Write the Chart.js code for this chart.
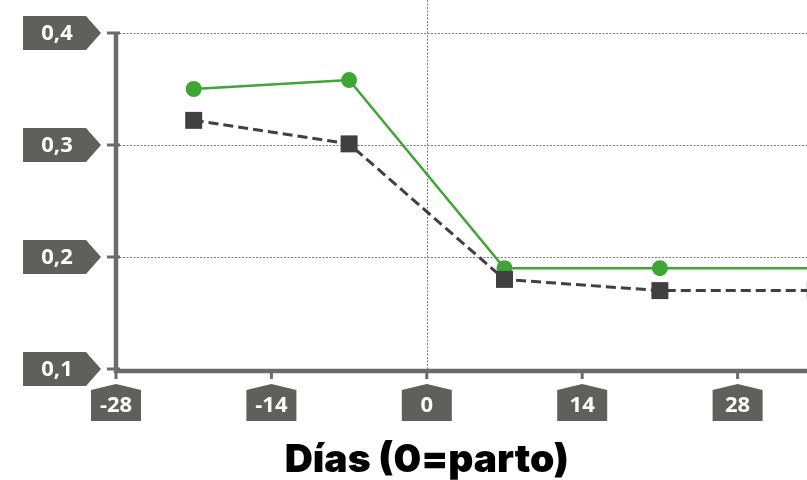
<!DOCTYPE html>
<html>
<head>
<meta charset="utf-8">
<script src="https://cdn.jsdelivr.net/npm/chart.js@4/dist/chart.umd.min.js"></script>
<style>
  html, body { margin: 0; padding: 0; background: #ffffff; overflow: hidden; }
  #wrap { width: 905px; height: 480px; }
</style>
</head>
<body>
<div id="wrap"><canvas id="chart" width="905" height="480"></canvas></div>
<script>
// Days relative to calving and the two measured series
const days = [-21, -7, 7, 21, 35];
const seriesA = [0.350, 0.358, 0.190, 0.190, 0.190];
const seriesB = [0.322, 0.301, 0.180, 0.170, 0.170];

// Axis ticks and their printed labels
const xTicks = [-28, -14, 0, 14, 28];
const xTickLabels = ['-28', '-14', '0', '14', '28'];
const yTicks = [0.1, 0.2, 0.3, 0.4];
const yTickLabels = ['0,1', '0,2', '0,3', '0,4'];
const xTitle = 'Días (0=parto)';

const GREEN = '#3fa535';
const DARK = '#404040';
const BOX = '#5f5f5d';
const AXIS = '#6b6b6b';
const GRID = '#7a7a7a';

const decorations = {
  id: 'decorations',
  beforeDatasetsDraw(chart) {
    const { ctx, chartArea, scales } = chart;
    const x = scales.x, y = scales.y;
    ctx.save();
    // dotted grid
    ctx.strokeStyle = GRID;
    ctx.lineWidth = 1;
    ctx.setLineDash([2, 1.5]);
    yTicks.slice(1).forEach(v => {
      const py = Math.round(y.getPixelForValue(v)) + 0.5;
      ctx.beginPath();
      ctx.moveTo(chartArea.left, py);
      ctx.lineTo(chart.width, py);
      ctx.stroke();
    });
    const px0 = Math.round(x.getPixelForValue(0)) + 0.5;
    ctx.beginPath();
    ctx.moveTo(px0, 0);
    ctx.lineTo(px0, chartArea.bottom);
    ctx.stroke();
    ctx.setLineDash([]);

    // axis lines
    ctx.strokeStyle = AXIS;
    ctx.lineWidth = 4.5;
    ctx.beginPath();
    ctx.moveTo(chartArea.left, chartArea.top - 1);
    ctx.lineTo(chartArea.left, chartArea.bottom + 2);
    ctx.lineTo(chart.width, chartArea.bottom + 2);
    ctx.stroke();

    // tick marks
    ctx.lineWidth = 3;
    yTicks.forEach(v => {
      const py = y.getPixelForValue(v);
      ctx.beginPath();
      ctx.moveTo(chartArea.left - 9, py);
      ctx.lineTo(chartArea.left + 4, py);
      ctx.stroke();
    });
    xTicks.forEach(v => {
      const px = x.getPixelForValue(v);
      ctx.beginPath();
      ctx.moveTo(px, chartArea.bottom);
      ctx.lineTo(px, chartArea.bottom + 10);
      ctx.stroke();
    });
    ctx.restore();
  },
  afterDraw(chart) {
    const { ctx, chartArea, scales } = chart;
    const x = scales.x, y = scales.y;
    ctx.save();
    ctx.font = 'bold 22px "Open Sans"';
    ctx.textAlign = 'center';
    ctx.textBaseline = 'middle';

    // y labels: arrow-shaped tags pointing at the axis
    yTicks.forEach((v, i) => {
      const py = y.getPixelForValue(v);
      ctx.fillStyle = BOX;
      ctx.beginPath();
      ctx.moveTo(23, py - 17);
      ctx.lineTo(86, py - 17);
      ctx.lineTo(101, py);
      ctx.lineTo(86, py + 17);
      ctx.lineTo(23, py + 17);
      ctx.closePath();
      ctx.fill();
      ctx.fillStyle = '#ffffff';
      ctx.fillText(yTickLabels[i], 57, py + 1);
    });

    // x labels: house-shaped tags under the ticks
    const top = chartArea.bottom + 15;
    xTicks.forEach((v, i) => {
      const px = x.getPixelForValue(v);
      ctx.fillStyle = BOX;
      ctx.beginPath();
      ctx.moveTo(px - 25, top + 6);
      ctx.lineTo(px, top);
      ctx.lineTo(px + 25, top + 6);
      ctx.lineTo(px + 25, top + 37);
      ctx.lineTo(px - 25, top + 37);
      ctx.closePath();
      ctx.fill();
      ctx.fillStyle = '#ffffff';
      ctx.fillText(xTickLabels[i], px, top + 22);
    });

    // axis title
    const cx = (x.getPixelForValue(xTicks[0]) + x.getPixelForValue(xTicks[xTicks.length - 1])) / 2;
    ctx.fillStyle = '#000000';
    ctx.font = '900 39px Inter';
    ctx.textBaseline = 'alphabetic';
    ctx.fillText(xTitle, cx, 472);
    ctx.restore();
  }
};

new Chart(document.getElementById('chart'), {
  type: 'line',
  data: {
    labels: days,
    datasets: [
      {
        data: days.map((d, i) => ({ x: d, y: seriesB[i] })),
        borderColor: DARK,
        borderWidth: 3,
        borderDash: [10, 5],
        pointStyle: 'rect',
        pointRadius: 12,
        pointBackgroundColor: DARK,
        pointBorderWidth: 0,
        tension: 0
      },
      {
        data: days.map((d, i) => ({ x: d, y: seriesA[i] })),
        borderColor: GREEN,
        borderWidth: 2.5,
        pointStyle: 'circle',
        pointRadius: 8,
        pointBackgroundColor: GREEN,
        pointBorderWidth: 0,
        tension: 0
      }
    ]
  },
  options: {
    responsive: false,
    animation: false,
    layout: { padding: { top: 33, right: 6.5, left: 0, bottom: 0 } },
    plugins: { legend: { display: false }, tooltip: { enabled: false }, title: { display: false } },
    scales: {
      x: {
        type: 'linear',
        min: -28, max: 42,
        ticks: { display: false, stepSize: 14 },
        grid: { display: false },
        border: { display: false },
        afterFit(scale) { scale.height = 111; }
      },
      y: {
        min: 0.1, max: 0.4,
        ticks: { display: false, stepSize: 0.1 },
        grid: { display: false },
        border: { display: false },
        afterFit(scale) { scale.width = 116; }
      }
    }
  },
  plugins: [decorations]
});
</script>
</body>
</html>
